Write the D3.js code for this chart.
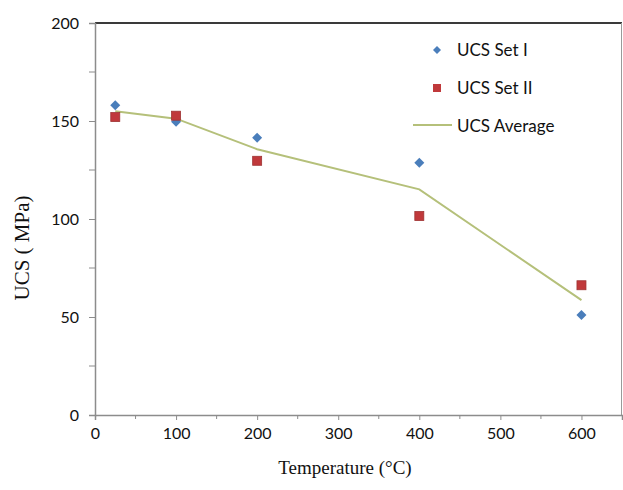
<!DOCTYPE html>
<html>
<head>
<meta charset="utf-8">
<script src="https://cdn.jsdelivr.net/npm/d3@7"></script>
<style>
  html, body { margin: 0; padding: 0; background: #fff; }
  svg { display: block; }
</style>
</head>
<body>
<svg id="chart" width="623" height="490"></svg>
<script>
// Uniaxial compressive strength versus temperature
const temperatures = [25, 100, 200, 400, 600];
const ucsSet1 = [158, 149.6, 141.5, 128.7, 51];
const ucsSet2 = [152, 152.7, 129.7, 101.5, 66.2];
const ucsAverage = [155, 151.2, 135.6, 115.1, 58.6];

const xTickValues = [0, 100, 200, 300, 400, 500, 600];
const xMinorTicks = [50, 150, 250, 350, 450, 550];
const yTickValues = [0, 50, 100, 150, 200];
const yMinorTicks = [25, 75, 125, 175];

const seriesNames = ["UCS Set I", "UCS Set II", "UCS Average"];
const xTitle = "Temperature (°C)";
const yTitle = "UCS ( MPa)";

const svg = d3.select("#chart");
const m = { left: 95, right: 622, top: 23, bottom: 415 };

const x = d3.scaleLinear().domain([0, 650]).range([m.left, m.right]);
const y = d3.scaleLinear().domain([0, 200]).range([m.bottom, m.top]);

const axisColor = "#8c8c8c";
const labelFont = "Lato, 'Open Sans', sans-serif";
const titleFont = "'Liberation Serif', 'Times New Roman', serif";

// Frame: top edge dark, right edge light
svg.append("line")
  .attr("x1", m.left).attr("x2", m.right)
  .attr("y1", m.top).attr("y2", m.top)
  .attr("stroke", "#3a3a3a").attr("stroke-width", 2);
svg.append("line")
  .attr("x1", m.right - 0.5).attr("x2", m.right - 0.5)
  .attr("y1", m.top).attr("y2", m.bottom)
  .attr("stroke", "#9a9a9a").attr("stroke-width", 1);

// X axis
const xAxis = svg.append("g")
  .attr("transform", `translate(0,${m.bottom})`)
  .call(d3.axisBottom(x).tickValues(xTickValues).tickSize(5).tickPadding(8).tickFormat(d3.format("d")));
xAxis.append("g").selectAll("line").data(xMinorTicks).join("line")
  .attr("x1", d => x(d)).attr("x2", d => x(d)).attr("y1", 0).attr("y2", 4)
  .attr("stroke", axisColor);

// Y axis
const yAxis = svg.append("g")
  .attr("transform", `translate(${m.left},0)`)
  .call(d3.axisLeft(y).tickValues(yTickValues).tickSize(6).tickPadding(10).tickFormat(d3.format("d")));
yAxis.append("g").selectAll("line").data(yMinorTicks).join("line")
  .attr("x1", 0).attr("x2", -6).attr("y1", d => y(d)).attr("y2", d => y(d))
  .attr("stroke", axisColor);

[xAxis, yAxis].forEach(g => {
  g.select(".domain").attr("stroke", axisColor).attr("stroke-width", 1.5);
  g.selectAll(".tick line").attr("stroke", axisColor);
  g.selectAll(".tick text")
    .attr("font-family", labelFont)
    .attr("font-size", 16)
    .attr("fill", "#111");
});

// Average line
const line = d3.line().x((d, i) => x(temperatures[i])).y(d => y(d));
svg.append("path")
  .datum(ucsAverage)
  .attr("d", line)
  .attr("fill", "none")
  .attr("stroke", "#b5c07a")
  .attr("stroke-width", 2);

// Set I: blue diamonds (squares turned 45 degrees)
const diamondPath = d3.symbol().type(d3.symbolSquare).size(50);
svg.append("g").selectAll("path").data(ucsSet1).join("path")
  .attr("d", diamondPath)
  .attr("transform", (d, i) => `translate(${x(temperatures[i])},${y(d)}) rotate(45)`)
  .attr("fill", "#4a7ebb");

// Set II: red squares
svg.append("g").selectAll("rect").data(ucsSet2).join("rect")
  .attr("x", (d, i) => x(temperatures[i]) - 4.5)
  .attr("y", d => y(d) - 4.5)
  .attr("width", 9).attr("height", 9)
  .attr("fill", "#c0393b")
  .attr("stroke", "#9e3434").attr("stroke-width", 0.8);

// Legend
const legend = svg.append("g").attr("font-family", labelFont).attr("font-size", 17).attr("fill", "#111");
legend.append("path")
  .attr("d", d3.symbol().type(d3.symbolSquare).size(32))
  .attr("transform", "translate(437,50) rotate(45)")
  .attr("fill", "#4a7ebb");
legend.append("rect")
  .attr("x", 433).attr("y", 84).attr("width", 8).attr("height", 8)
  .attr("fill", "#c0393b");
legend.append("line")
  .attr("x1", 413).attr("x2", 452).attr("y1", 125).attr("y2", 125)
  .attr("stroke", "#b5c07a").attr("stroke-width", 2);
legend.selectAll("text").data(seriesNames).join("text")
  .attr("x", 457)
  .attr("y", (d, i) => 56 + i * 38)
  .text(d => d);

// Axis titles
svg.append("text")
  .attr("x", 345).attr("y", 474)
  .attr("text-anchor", "middle")
  .attr("font-family", titleFont)
  .attr("font-size", 19)
  .attr("fill", "#111")
  .text(xTitle);
svg.append("text")
  .attr("transform", "translate(29,248) rotate(-90)")
  .attr("text-anchor", "middle")
  .attr("font-family", titleFont)
  .attr("font-size", 21)
  .attr("fill", "#111")
  .text(yTitle);
</script>
</body>
</html>
